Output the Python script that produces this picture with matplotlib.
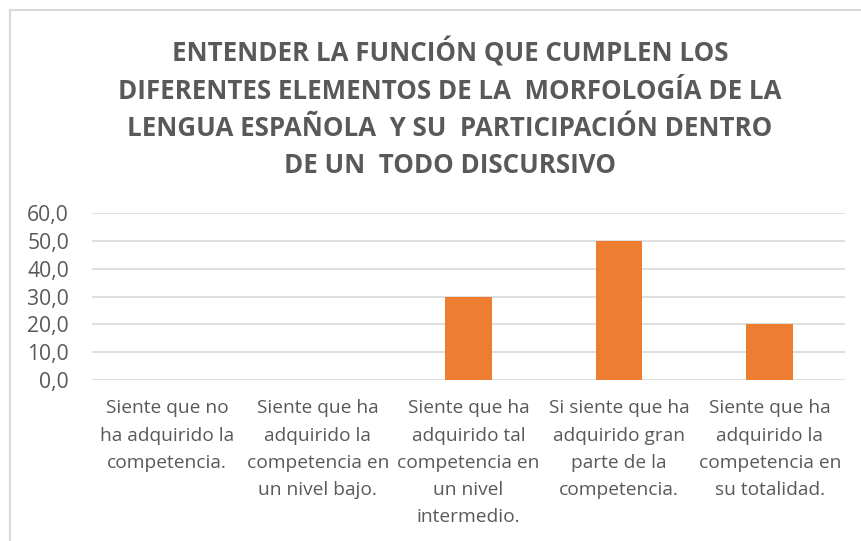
import matplotlib.pyplot as plt
import matplotlib.patches as mpatches
import numpy as np

plt.rcParams['font.family'] = ['Open Sans', 'DejaVu Sans']

# data
categorias = [
    'Siente que no\nha adquirido la\ncompetencia.',
    'Siente que ha\nadquirido la\ncompetencia en\nun nivel bajo.',
    'Siente que ha\nadquirido tal\ncompetencia en\nun nivel\nintermedio.',
    'Si siente que ha\nadquirido gran\nparte de la\ncompetencia.',
    'Siente que ha\nadquirido la\ncompetencia en\nsu totalidad.',
]
valores = [0.0, 0.0, 30.0, 50.0, 20.0]
ticks_y = [0, 10, 20, 30, 40, 50, 60]
titulo = ('ENTENDER LA FUNCIÓN QUE CUMPLEN LOS\n'
          'DIFERENTES ELEMENTOS DE LA  MORFOLOGÍA DE LA\n'
          'LENGUA ESPAÑOLA  Y SU  PARTICIPACIÓN DENTRO\n'
          'DE UN  TODO DISCURSIVO')

naranja = '#ED7D31'
gris_texto = '#595959'
gris_linea = '#D9D9D9'

fig = plt.figure(figsize=(8.61, 5.41), dpi=100)
W, H = 861, 541
# plot area in pixels: x 92..845, y 213..380
ax = fig.add_axes([92 / W, 1 - 380 / H, (845 - 92) / W, (380 - 213) / H])

x = np.arange(len(categorias))
ax.bar(x, valores, width=0.31, color=naranja, zorder=3)

ax.set_xlim(-0.5, len(categorias) - 0.5)
ax.set_ylim(0, 60)
ax.set_yticks(ticks_y)
ax.set_yticklabels([f'{v:.1f}'.replace('.', ',') for v in ticks_y],
                   fontsize=15.2, color=gris_texto)
ax.set_xticks(x)
ax.set_xticklabels(categorias, fontsize=13.8, color=gris_texto,
                   linespacing=1.65, va='top')
ax.tick_params(axis='both', length=0)
ax.tick_params(axis='y', pad=16.5)
ax.tick_params(axis='x', pad=14)
ax.yaxis.grid(True, color=gris_linea, linewidth=1.2, zorder=0)
for s in ax.spines.values():
    s.set_visible(False)

fig.text(450 / W, 1 - 38 / H, titulo, ha='center', va='top',
         fontsize=18.6, fontweight='bold', color=gris_texto, linespacing=1.47)

# chart border (light gray frame, cut by the image edge)
fig.patches.append(mpatches.Rectangle((10 / W, -0.1), 1.1, 1 - 10 / H + 0.1,
                                      transform=fig.transFigure, fill=False,
                                      edgecolor=gris_linea, linewidth=1.5))

fig.savefig('out.png', dpi=100)
